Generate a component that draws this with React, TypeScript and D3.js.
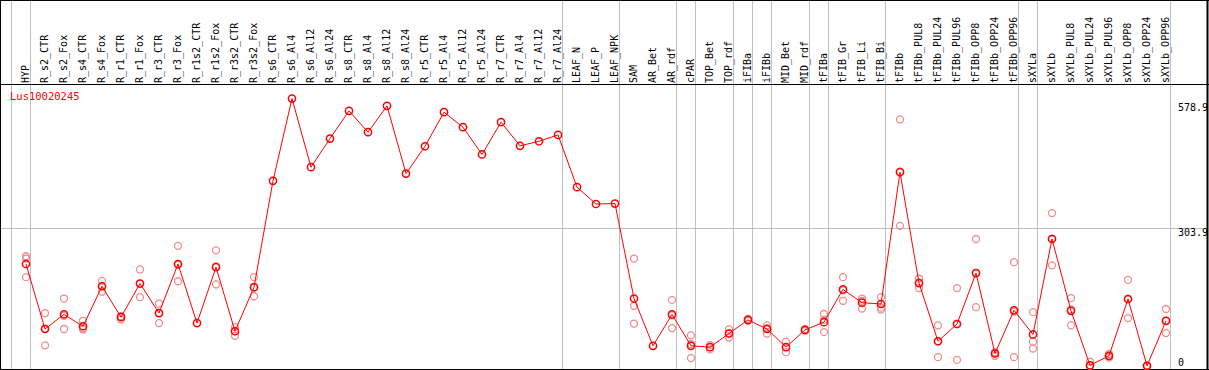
import React from "react";
import * as d3 from "d3";

const geneName = "Lus10020245";

const categories = [
  "HYP", "R_s2_CTR", "R_s2_Fox", "R_s4_CTR", "R_s4_Fox", "R_r1_CTR", "R_r1_Fox", "R_r3_CTR", "R_r3_Fox",
  "R_r1s2_CTR", "R_r1s2_Fox", "R_r3s2_CTR", "R_r3s2_Fox", "R_s6_CTR", "R_s6_Al4", "R_s6_Al12", "R_s6_Al24",
  "R_s8_CTR", "R_s8_Al4", "R_s8_Al12", "R_s8_Al24", "R_r5_CTR", "R_r5_Al4", "R_r5_Al12", "R_r5_Al24",
  "R_r7_CTR", "R_r7_Al4", "R_r7_Al12", "R_r7_Al24", "LEAF_N", "LEAF_P", "LEAF_NPK", "SAM", "AR_Bet", "AR_rdf",
  "cPAR", "TOP_Bet", "TOP_rdf", "iFIBa", "iFIBb", "MID_Bet", "MID_rdf", "tFIBa", "tFIB_Gr", "tFIB_Li", "tFIB_Bi",
  "tFIBb", "tFIBb_PUL8", "tFIBb_PUL24", "tFIBb_PUL96", "tFIBb_OPP8", "tFIBb_OPP24", "tFIBb_OPP96",
  "sXYLa", "sXYLb", "sXYLb_PUL8", "sXYLb_PUL24", "sXYLb_PUL96", "sXYLb_OPP8", "sXYLb_OPP24", "sXYLb_OPP96",
];

const meanValues = [
  224, 81, 113, 87, 175, 107, 181, 116, 224, 94, 217, 76, 173, 407, 588, 437, 500, 561, 514, 572, 423,
  483, 558, 525, 465, 536, 484, 494, 508, 393, 356, 357, 148, 44, 113, 44, 41, 71, 101, 81, 41, 79, 96,
  168, 139, 136, 426, 182, 54, 92, 204, 27, 122, 69, 279, 121, 1, 22, 147, 0, 99,
];

const rep1 = [
  236, 116, 148, 99, 187, 109, 212, 137, 264, null, 254, 85, 195, null, null, null, null, null, null, null, null,
  null, null, null, null, null, null, null, null, null, null, null, 236, null, 145, 67, 46, 80, 101, 89, 53, 80, 114,
  195, 148, 151, 542, 192, 89, 171, 279, 30, 228, 118, 336, 149, 9, 26, 189, 0, 125,
];
const rep2 = [
  195, 45, 81, 80, 163, 102, 151, 94, 186, null, 179, 66, 153, null, null, null, null, null, null, null, null,
  null, null, null, null, null, null, null, null, null, null, null, 132, null, 83, 17, 36, 62, 99, 71, 30, 77, 74,
  143, 126, 124, 308, 171, 19, 13, 129, 22, 19, 53, 221, 89, 0, 18, 105, 0, 72,
];
const rep3 = [
  241, 82, 110, 83, 175, 109, 181, 116, 222, null, 218, 77, 172, null, null, null, null, null, null, null, null,
  null, null, null, null, null, null, null, null, null, null, null, 93, null, 111, 48, 41, 72, 103, 83, 41, 80, 101,
  166, 143, 128, 427, 183, 54, 92, 204, 29, 119, 38, 280, 124, 0, 21, 147, 0, 99,
];

// group separators: drawn after these categories
const separatorsAfter = [
  "HYP", "R_r7_Al24", "LEAF_NPK", "AR_rdf", "cPAR", "TOP_rdf", "iFIBa", "iFIBb", "MID_rdf", "tFIBa",
  "tFIB_Bi", "tFIBb_OPP96", "sXYLa", "sXYLb_OPP96",
];

const axisTicks = [578.9, 303.9, 0];
const gridTicks = [303.9];

const W = 1209;
const H = 370;
const FONT = "'DejaVu Sans Mono', 'Liberation Mono', monospace";

export default function App() {
  const x = d3.scaleBand<string>().domain(categories).range([11.5, 11.5 + categories.length * 19]).padding(0);
  const y = d3.scaleLinear().domain([0, 578.9]).range([365.8, 102.7]);
  const px = (c: string) => (x(c) as number) + 14.5;

  const line = d3
    .line<number>()
    .x((_, i) => px(categories[i]))
    .y((v) => y(v));

  const reps: { c: string; v: number }[] = [];
  [rep1, rep2, rep3].forEach((arr) =>
    arr.forEach((v, i) => {
      if (v !== null && v !== undefined) reps.push({ c: categories[i], v: v as number });
    })
  );

  const sepXs = [x(categories[0]) as number, ...separatorsAfter.map((c) => (x(c) as number) + x.bandwidth())];

  const tickY = (t: number) => (t === 0 ? 366 : y(t) + 8.5);

  return (
    <svg
      width={W}
      height={H}
      style={{ position: "absolute", left: 0, top: 0, background: "#fff" }}
      fontFamily={FONT}
    >
      <rect x={0} y={0} width={W} height={H} fill="#fff" />
      {/* vertical group separators */}
      {sepXs.map((sx, i) => (
        <line key={"s" + i} x1={sx} x2={sx} y1={0} y2={H} stroke="#c0c0c0" strokeWidth={1} />
      ))}
      {/* horizontal grid */}
      {gridTicks.map((t) => (
        <line key={"g" + t} x1={0} x2={1207} y1={Math.round(y(t)) + 0.5} y2={Math.round(y(t)) + 0.5} stroke="#c0c0c0" strokeWidth={1} />
      ))}
      {/* frame */}
      <line x1={0} x2={W} y1={0.5} y2={0.5} stroke="#000" strokeWidth={1} />
      <line x1={0} x2={W} y1={84.5} y2={84.5} stroke="#000" strokeWidth={1} />
      <line x1={0} x2={W} y1={369.5} y2={369.5} stroke="#000" strokeWidth={1} />
      <line x1={0.5} x2={0.5} y1={0} y2={H} stroke="#000" strokeWidth={1} />
      <line x1={1207.5} x2={1207.5} y1={0} y2={H} stroke="#000" strokeWidth={2} />

      {/* category labels */}
      {categories.map((c) => (
        <text
          key={"l" + c}
          transform={`translate(${(x(c) as number) + 17.8},83) rotate(-90)`}
          fontSize={10}
          fill="#000"
        >
          {c}
        </text>
      ))}

      {/* gene name */}
      <text x={10} y={99.5} fontSize={10.5} fill="#ff0000">
        {geneName}
      </text>

      {/* right axis tick labels */}
      {axisTicks.map((t) => (
        <text key={"t" + t} x={1178} y={tickY(t)} fontSize={10} fill="#000">
          {t === 0 ? "0" : t.toFixed(1)}
        </text>
      ))}

      {/* replicates */}
      {reps.map((r, i) => (
        <circle key={"r" + i} cx={px(r.c)} cy={y(r.v)} r={3.5} fill="none" stroke="#f08c8c" strokeWidth={1.3} />
      ))}

      {/* mean line */}
      <path d={line(meanValues) || ""} fill="none" stroke="#ff0000" strokeWidth={1} />
      {meanValues.map((v, i) => (
        <circle key={"m" + i} cx={px(categories[i])} cy={y(v)} r={3.6} fill="none" stroke="#ff0000" strokeWidth={1.5} />
      ))}
    </svg>
  );
}
